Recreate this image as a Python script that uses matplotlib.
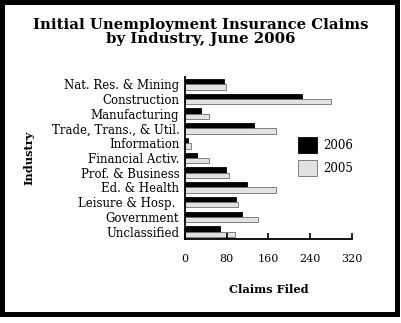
import numpy as np
import matplotlib.pyplot as plt
from matplotlib.patches import Rectangle

industries = ["Nat. Res. & Mining", "Construction", "Manufacturing",
              "Trade, Trans., & Util.", "Information", "Financial Activ.",
              "Prof. & Business", "Ed. & Health", "Leisure & Hosp. ",
              "Government", "Unclassified"]
claims_2006 = [75, 224, 31, 132, 6, 23, 78, 120, 98, 109, 67]
claims_2005 = [78, 280, 47, 174, 11, 47, 85, 174, 102, 141, 97]

plt.rcParams['font.family'] = 'DejaVu Serif'

fig = plt.figure(figsize=(4.02, 3.23), dpi=100)
ax = fig.add_axes([0.46, 0.26, 0.415, 0.502])

y = np.arange(len(industries))
h = 0.36
ax.barh(y - h / 2, claims_2006, height=h, color='black', edgecolor='black',
        linewidth=0.6, label='2006')
ax.barh(y + h / 2, claims_2005, height=h, color='#e2e2e2', edgecolor='#6e6e6e',
        linewidth=0.6, label='2005')

ax.set_xlim(0, 320)
ax.set_ylim(len(industries) - 0.5, -0.5)
ax.set_xticks([0, 80, 160, 240, 320])
ax.set_yticks(y)
ax.set_yticklabels(industries, fontsize=8.5)
ax.tick_params(axis='x', direction='in', length=4, width=1.2, labelsize=8, pad=11)
ax.tick_params(axis='y', length=0, pad=4)
for s in ['top', 'right']:
    ax.spines[s].set_visible(False)
for s in ['left', 'bottom']:
    ax.spines[s].set_linewidth(1.3)

ax.set_xlabel("Claims Filed", fontsize=8.2, fontweight='bold', labelpad=14)
ax.set_ylabel("Industry", fontsize=8.2, fontweight='bold')
ax.yaxis.set_label_coords(-0.9, 0.5)

fig.text(0.5, 0.945, "Initial Unemployment Insurance Claims\nby Industry, June 2006",
         ha='center', va='top', fontsize=10.7, fontweight='bold', linespacing=1.05)

ax.legend(loc='center left', bbox_to_anchor=(0.65, 0.51), frameon=False,
          fontsize=8.5, handlelength=1.6, handleheight=1.7, labelspacing=0.6,
          handletextpad=0.5, borderaxespad=0)

fig.patches.append(Rectangle((2.5 / 402, 1 - 314 / 323), 395 / 402, 312.5 / 323,
                             transform=fig.transFigure, fill=False,
                             edgecolor='black', linewidth=3.6))

fig.savefig("out.png", dpi=100)
